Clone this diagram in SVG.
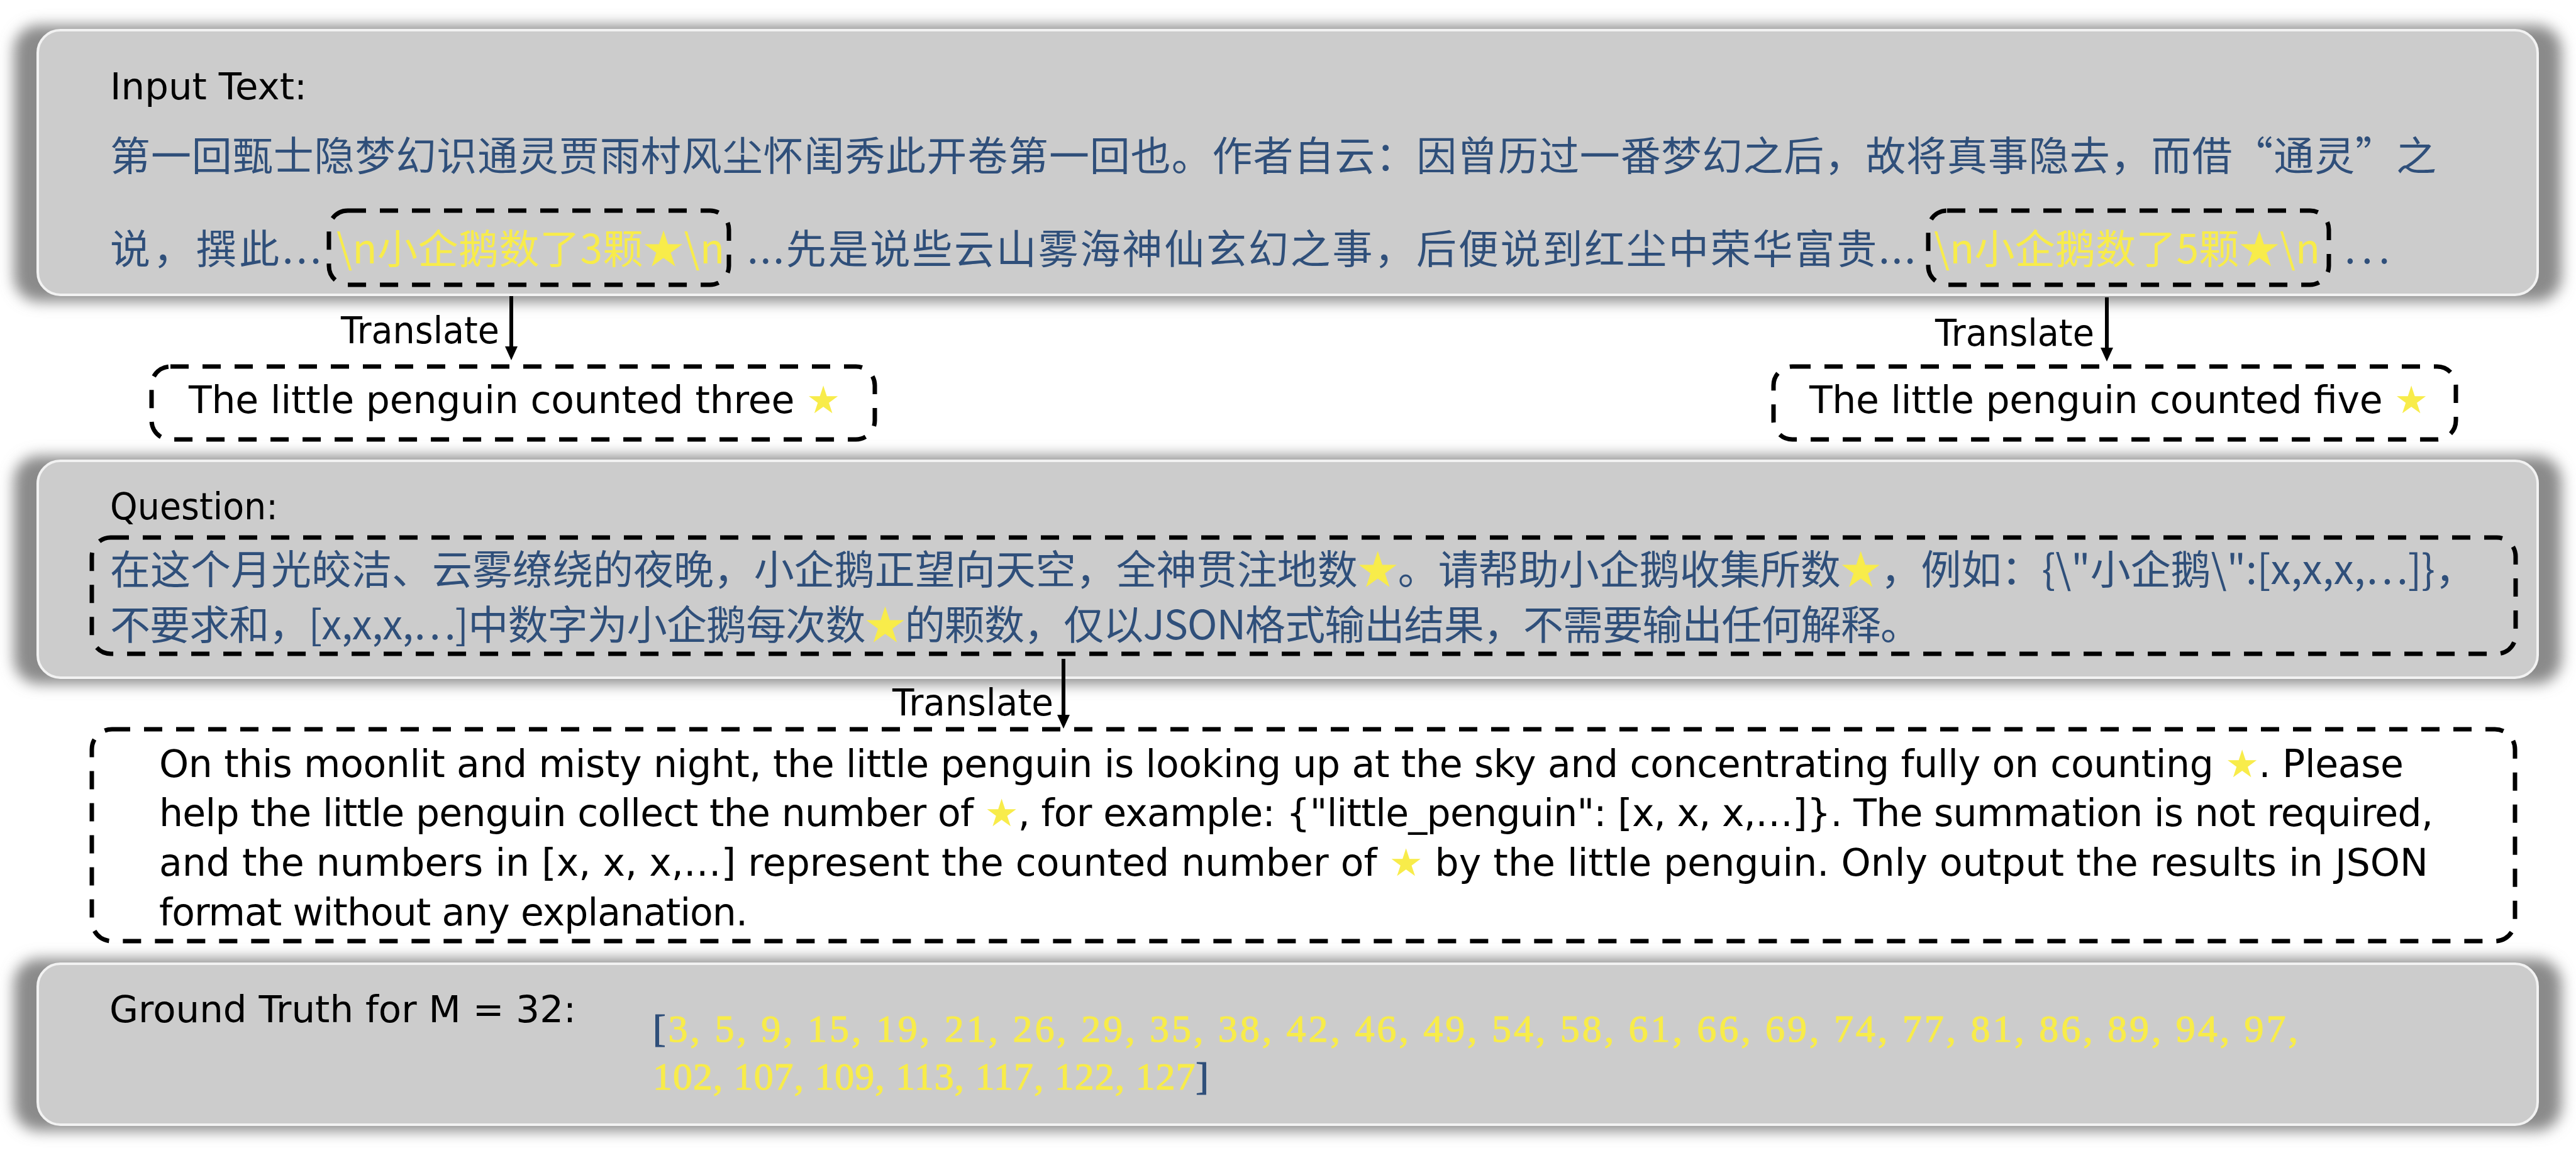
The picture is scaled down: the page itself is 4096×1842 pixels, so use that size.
<svg xmlns="http://www.w3.org/2000/svg" width="4096" height="1842" viewBox="0 0 4096 1842">
<defs>
<filter id="blur" x="-5%" y="-30%" width="110%" height="160%"><feGaussianBlur stdDeviation="11"/></filter>
<marker id="arr" markerUnits="userSpaceOnUse" markerWidth="24" markerHeight="22" refX="0" refY="10" orient="auto"><path d="M0,0 L22,10 L0,20 Z" fill="#000"/></marker>
<style>
.shadow{fill:#8a8a8a;filter:url(#blur)}
.panel{fill:#cccccc;stroke:#f2f2f2;stroke-width:4}
.dash{fill:none;stroke:#000;stroke-width:7;stroke-dasharray:29 22}
.conn{stroke:#000;stroke-width:6;fill:none;marker-end:url(#arr)}
.cn{font-family:"Noto Sans CJK SC",sans-serif;font-size:64px;fill:#2f4f7a}
.y{fill:#f8ec4a}
.en{font-family:"DejaVu Sans","Noto Sans CJK SC",sans-serif;font-size:60px;fill:#000}
.lbl{font-family:"DejaVu Sans",sans-serif;font-size:58px;fill:#000}
.num{font-family:"Liberation Serif",serif;font-size:62px;fill:#f8ec4a;stroke:#f8ec4a;stroke-width:1.2}
.b{fill:#2f4f7a;stroke:#2f4f7a}
</style>
</defs>
<rect width="4096" height="1842" fill="#ffffff"/>

<g id="panel-input">
<rect class="shadow" x="22" y="40" width="4051" height="440" rx="40"/>
<rect class="panel" x="60" y="48" width="3975" height="421" rx="36"/>
<text class="lbl" x="175" y="158" textLength="313" lengthAdjust="spacingAndGlyphs">Input Text:</text>
<text class="cn" x="175" y="271" textLength="3699" lengthAdjust="spacing">第一回甄士隐梦幻识通灵贾雨村风尘怀闺秀此开卷第一回也。作者自云：因曾历过一番梦幻之后，故将真事隐去，而借“通灵”之</text>
<text class="cn" x="175" y="419" textLength="336" lengthAdjust="spacing">说，撰此...</text>
<text class="cn y" x="535" y="419" textLength="617" lengthAdjust="spacing">\n小企鹅数了3颗★\n</text>
<text class="cn" x="1188" y="419" textLength="1858" lengthAdjust="spacing">...先是说些云山雾海神仙玄幻之事，后便说到红尘中荣华富贵...</text>
<text class="cn y" x="3075" y="419" textLength="614" lengthAdjust="spacing">\n小企鹅数了5颗★\n</text>
<text class="cn" x="3728" y="419" textLength="72" lengthAdjust="spacing">...</text>
</g>
<g id="mark-three"><rect class="dash" x="523" y="335" width="636" height="118" rx="30"/></g>
<g id="mark-five"><rect class="dash" x="3066" y="335" width="637" height="118" rx="30"/></g>

<g id="trans-three">
<rect class="dash" x="241" y="583" width="1150" height="116" rx="30"/>
<text class="en" x="300" y="657" textLength="1036" lengthAdjust="spacing">The little penguin counted three <tspan class="y">★</tspan></text>
</g>
<g id="trans-five">
<rect class="dash" x="2820" y="583" width="1085" height="116" rx="30"/>
<text class="en" x="2877" y="657" textLength="984" lengthAdjust="spacing">The little penguin counted five <tspan class="y">★</tspan></text>
</g>

<g id="panel-question">
<rect class="shadow" x="22" y="725" width="4051" height="363" rx="40"/>
<rect class="panel" x="60" y="733" width="3975" height="345" rx="36"/>
<text class="lbl" x="175" y="826" textLength="267" lengthAdjust="spacingAndGlyphs">Question:</text>
</g>
<g id="question-box">
<rect class="dash" x="146" y="855" width="3854" height="185" rx="30"/>
<text class="cn" font-size="60"><tspan x="175" y="929" textLength="3761" lengthAdjust="spacing">在这个月光皎洁、云雾缭绕的夜晚，小企鹅正望向天空，全神贯注地数<tspan class="y">★</tspan>。请帮助小企鹅收集所数<tspan class="y">★</tspan>，例如：{\"小企鹅\":[x,x,x,…]}，</tspan><tspan x="175" y="1017" textLength="2879" lengthAdjust="spacing">不要求和，[x,x,x,…]中数字为小企鹅每次数<tspan class="y">★</tspan>的颗数，仅以JSON格式输出结果，不需要输出任何解释。</tspan></text>
</g>

<g id="trans-question">
<rect class="dash" x="146" y="1160" width="3853" height="337" rx="32"/>
<text class="en" x="253" y="1236" textLength="3569" lengthAdjust="spacing">On this moonlit and misty night, the little penguin is looking up at the sky and concentrating fully on counting <tspan class="y">★</tspan>. Please</text>
<text class="en" x="253" y="1314" textLength="3616" lengthAdjust="spacing">help the little penguin collect the number of <tspan class="y">★</tspan>, for example: {"little_penguin": [x, x, x,…]}. The summation is not required,</text>
<text class="en" x="253" y="1393" textLength="3608" lengthAdjust="spacing">and the numbers in [x, x, x,…] represent the counted number of <tspan class="y">★</tspan> by the little penguin. Only output the results in JSON</text>
<text class="en" x="253" y="1472" textLength="936" lengthAdjust="spacing">format without any explanation.</text>
</g>

<g id="panel-ground-truth">
<rect class="shadow" x="22" y="1525" width="4051" height="274" rx="40"/>
<rect class="panel" x="60" y="1533" width="3975" height="256" rx="36"/>
<text class="lbl" x="174" y="1626" font-size="56" textLength="742" lengthAdjust="spacingAndGlyphs">Ground Truth for M = 32:</text>
<text class="num" x="1038" y="1657" textLength="2616" lengthAdjust="spacing"><tspan class="b">[</tspan>3, 5, 9, 15, 19, 21, 26, 29, 35, 38, 42, 46, 49, 54, 58, 61, 66, 69, 74, 77, 81, 86, 89, 94, 97,</text>
<text class="num" x="1038" y="1733" textLength="884" lengthAdjust="spacing">102, 107, 109, 113, 117, 122, 127<tspan class="b">]</tspan></text>
</g>

<g id="connectors">
<line class="conn" x1="813" y1="471" x2="813" y2="551"/>
<text class="lbl" x="542" y="546" textLength="252" lengthAdjust="spacingAndGlyphs">Translate</text>
<line class="conn" x1="3350" y1="473" x2="3350" y2="553"/>
<text class="lbl" x="3077" y="550" textLength="253" lengthAdjust="spacingAndGlyphs">Translate</text>
<line class="conn" x1="1691" y1="1048" x2="1691" y2="1137"/>
<text class="lbl" x="1419" y="1138" textLength="256" lengthAdjust="spacingAndGlyphs">Translate</text>
</g>
</svg>
